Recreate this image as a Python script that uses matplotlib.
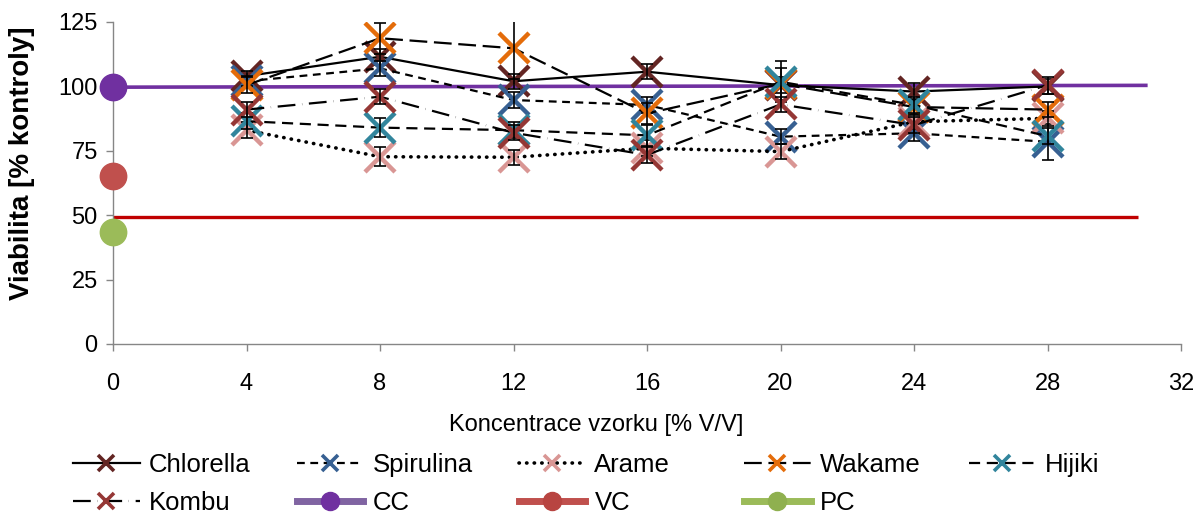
import matplotlib
matplotlib.use('Agg')
import matplotlib.pyplot as plt
from matplotlib.lines import Line2D

plt.rcParams['font.family'] = ['Liberation Sans', 'DejaVu Sans']

# ---------------- data ----------------
conc = [4, 8, 12, 16, 20, 24, 28]
chlorella = [104, 111.5, 102, 105.7, 100.5, 98, 100]
chlorella_err = [2, 3, 3, 3, 3, 3.2, 3]
spirulina = [102, 107, 94.7, 92.8, 80.5, 81.8, 78.5]
spirulina_err = [2, 3, 3, 3, 3, 3, 7]
arame = [83, 72.7, 72.5, 76, 74.7, 86.3, 87.6]
arame_err = [3, 3.6, 3, 3, 3, 3, 3]
wakame = [100.5, 118.7, 114.8, 89.5, 101, 92, 91]
wakame_err = [3, 6, 12, 4, 6.3, 3, 3]
hijiki = [86.5, 84, 83, 81, 101.8, 92.8, 80.7]
hijiki_err = [3, 3.7, 3, 4, 8, 3, 3]
kombu = [91, 96, 82, 73.4, 93, 85, 100.5]
kombu_err = [3, 3, 3, 3, 3, 3, 3.3]

cc_line_x = [0, 31]
cc_line = [99.7, 100.4]
vc_line_x = [0, 30.7]
vc_line = [49.2, 49.2]
control_x = [0]
cc = [99.8]
vc = [65.2]
pc = [43.5]

x_ticks = [0, 4, 8, 12, 16, 20, 24, 28, 32]
y_ticks = [0, 25, 50, 75, 100, 125]

# ---------------- styles ----------------
# name, values, errors, marker colour, line style, line width
series = [
    ("Chlorella", chlorella, chlorella_err, '#632523', '-', 1.6),
    ("Spirulina", spirulina, spirulina_err, '#376092', (0, (3.5, 2.5)), 1.6),
    ("Arame", arame, arame_err, '#D99694', (0, (0.1, 2.0)), 2.6),
    ("Wakame", wakame, wakame_err, '#E46C0A', (0, (8, 3)), 1.6),
    ("Hijiki", hijiki, hijiki_err, '#31859C', (0, (5, 3)), 1.6),
    ("Kombu", kombu, kombu_err, '#953735', (0, (8, 3, 0.1, 3)), 1.6),
]

W, H = 1197, 513
fig = plt.figure(figsize=(W / 100, H / 100), dpi=100)
ax = fig.add_axes([113 / W, 1 - 344 / H, (1181 - 113) / W, (344 - 22) / H])
ax.set_xlim(0, 32)
ax.set_ylim(0, 125)

# control lines
ax.plot(cc_line_x, cc_line, color='#7030A0', lw=2.6, zorder=2, solid_capstyle='butt')
ax.plot(vc_line_x, vc_line, color='#C00000', lw=2.4, zorder=2, solid_capstyle='butt')

z = 3
for name, vals, err, col, ls, lw in series:
    ax.plot(conc, vals, color='black', lw=lw, ls=ls, zorder=z,
            dash_capstyle='round' if name == 'Arame' else 'butt')
    ax.errorbar(conc, vals, yerr=err, fmt='none', ecolor='black', elinewidth=1.2,
                capsize=4.5, capthick=1.2, zorder=z + 0.5)
    ax.plot(conc, vals, ls='none', marker='x', markersize=21, mew=3.2,
            color=col, zorder=z + 0.2)
    z += 1

ax.plot(control_x, cc, 'o', color='#7030A0', ms=19, zorder=20, clip_on=False)
ax.plot(control_x, vc, 'o', color='#C0504D', ms=19, zorder=20, clip_on=False)
ax.plot(control_x, pc, 'o', color='#9BBB59', ms=19, zorder=20, clip_on=False)

# axes styling
for s in ['top', 'right']:
    ax.spines[s].set_visible(False)
for s in ['left', 'bottom']:
    ax.spines[s].set_color('#868686')
    ax.spines[s].set_linewidth(1.0)
ax.set_xticks(x_ticks)
ax.set_yticks(y_ticks)
ax.tick_params(axis='x', direction='out', length=5, width=1, color='#868686',
               labelsize=17, pad=16)
ax.tick_params(axis='y', direction='out', length=5, width=1, color='#868686',
               labelsize=17, pad=6)

fig.text(596 / W, 1 - 425 / H, 'Koncentrace vzorku [% V/V]', ha='center', va='center',
         fontsize=17)
fig.text(22 / W, 1 - 163 / H, 'Viabilita [% kontroly]', ha='center', va='center',
         rotation=90, fontsize=20, fontweight='bold')

# ---------------- legend ----------------
def xhandle(col, ls, lw, name):
    return Line2D([], [], color='black', lw=lw, ls=ls, marker='x', markersize=11,
                  mew=2.6, mec=col, label=name,
                  dash_capstyle='round' if name == 'Arame' else 'butt')

h = {name: xhandle(col, ls, lw, name) for name, vals, err, col, ls, lw in series}
h['CC'] = Line2D([], [], color='#8064A2', lw=5, marker='o', ms=13, mfc='#7030A0',
                 mec='#7030A0', label='CC')
h['VC'] = Line2D([], [], color='#C0504D', lw=5, marker='o', ms=13, mfc='#B84441',
                 mec='#B84441', label='VC')
h['PC'] = Line2D([], [], color='#9BBB59', lw=5, marker='o', ms=13, mfc='#8FB04F',
                 mec='#8FB04F', label='PC')

columns = [['Chlorella', 'Kombu'], ['Spirulina', 'CC'], ['Arame', 'VC'],
           ['Wakame', 'PC'], ['Hijiki']]
col_x = [72.7, 296.6, 518.6, 744, 968.6]
for names, xpx in zip(columns, col_x):
    fig.legend(handles=[h[n] for n in names], loc='upper left',
               bbox_to_anchor=(xpx / W, 1 - 453 / H), frameon=False,
               borderpad=0, borderaxespad=0, handlelength=2.6, handletextpad=0.35,
               labelspacing=0.55, fontsize=18.5)

fig.savefig('out.png', dpi=100)
